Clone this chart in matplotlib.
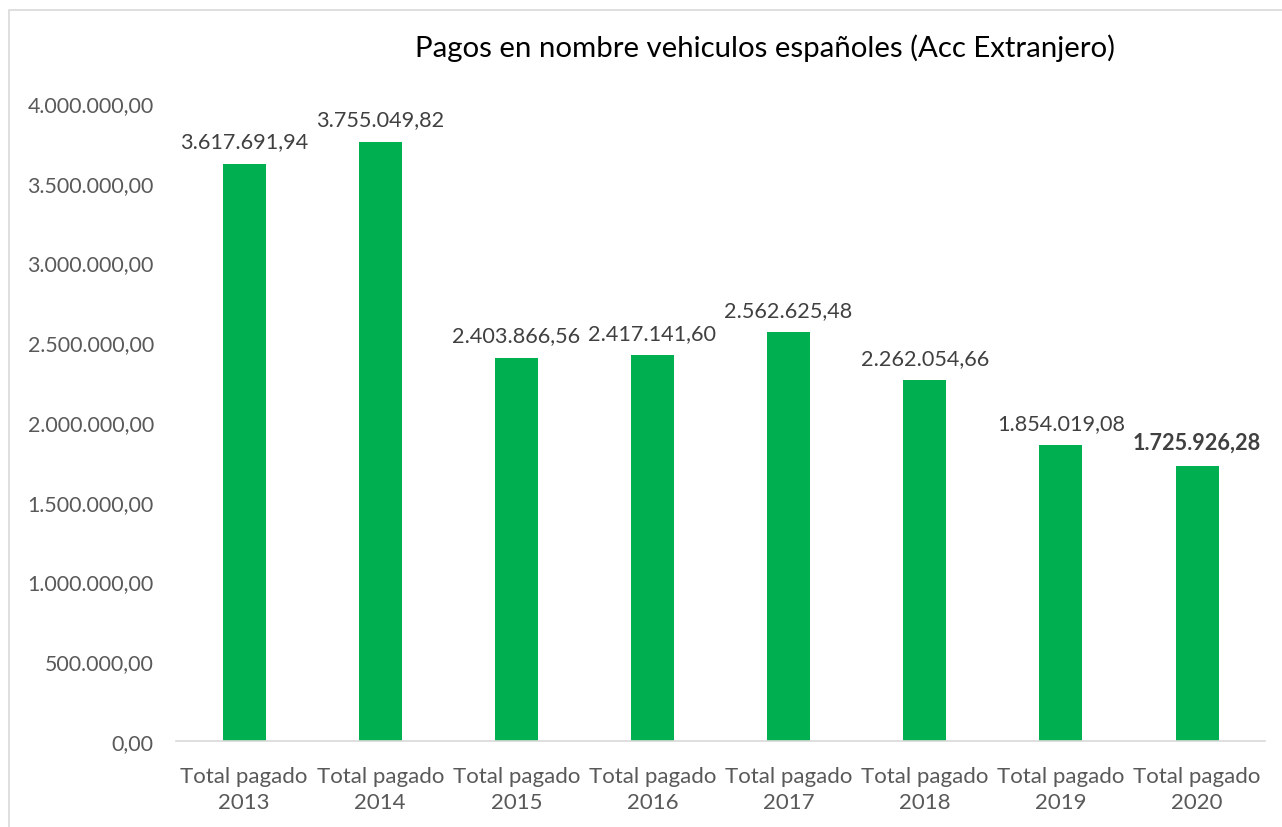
import matplotlib
matplotlib.use("Agg")
import matplotlib.pyplot as plt
from matplotlib.patches import Rectangle
from matplotlib.ticker import FuncFormatter

categories = ["Total pagado\n2013", "Total pagado\n2014", "Total pagado\n2015", "Total pagado\n2016",
              "Total pagado\n2017", "Total pagado\n2018", "Total pagado\n2019", "Total pagado\n2020"]
values = [3617691.94, 3755049.82, 2403866.56, 2417141.60, 2562625.48, 2262054.66, 1854019.08, 1725926.28]
title = "Pagos en nombre vehiculos españoles (Acc Extranjero)"


def es_format(v, pos=None):
    s = "{:,.2f}".format(v)
    return s.replace(",", "X").replace(".", ",").replace("X", ".")


plt.rcParams["font.family"] = ["Lato", "DejaVu Sans"]

fig = plt.figure(figsize=(12.82, 8.28), dpi=100)
fig.patches.append(Rectangle((9 / 1282, -0.01), 1.02, 1 - 11 / 828 + 0.01, transform=fig.transFigure,
                             fill=False, edgecolor="#D9D9D9", linewidth=1.2))
ax = fig.add_axes([0.1373, 0.1039, 0.8495, 0.7705])

x = range(len(values))
ax.bar(x, values, width=0.316, color="#00B050")
ax.set_xlim(-0.5, len(values) - 0.5)
ax.set_ylim(0, 4000000)
ax.set_yticks([i * 500000 for i in range(9)])
ax.yaxis.set_major_formatter(FuncFormatter(es_format))
ax.set_xticks(list(x))
ax.set_xticklabels(categories, linespacing=1.4)

for sp in ["top", "right", "left"]:
    ax.spines[sp].set_visible(False)
ax.spines["bottom"].set_color("#D9D9D9")
ax.spines["bottom"].set_linewidth(1.2)
ax.tick_params(axis="both", length=0, colors="#595959")
ax.tick_params(axis="y", pad=16, labelsize=15.4)
ax.tick_params(axis="x", pad=18, labelsize=16)

for i, v in enumerate(values):
    ax.annotate(es_format(v), (i, v), xytext=(0, 9), textcoords="offset points",
                ha="center", va="bottom", fontsize=15.6, color="#404040",
                fontweight="bold" if i == len(values) - 1 else "normal")

fig.text(765 / 1282, 1 - 48 / 828, title, ha="center", va="center", fontsize=21.2, color="#000000")

fig.savefig("out.png", dpi=100)
